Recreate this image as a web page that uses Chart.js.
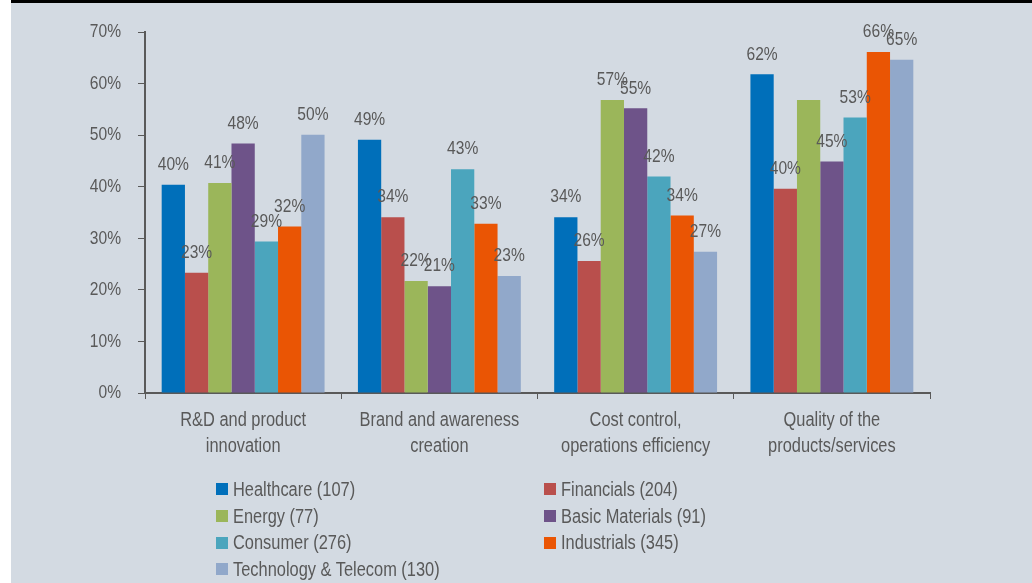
<!DOCTYPE html>
<html>
<head>
<meta charset="utf-8">
<script src="https://cdn.jsdelivr.net/npm/chart.js@4/dist/chart.umd.min.js"></script>
<style>
	html, body {
		margin: 0;
		padding: 0;
		background: #ffffff;
	}
	#frame {
		position: absolute;
		left: 11px;
		top: 0;
		width: 1021px;
		height: 580px;
		background: #d3dae2;
		border-top: 3px solid #000000;
	}
	#chart {
		position: absolute;
		left: 0;
		top: 0;
	}
	#legend {
		position: absolute;
		left: 216px;
		top: 476px;
		display: grid;
		grid-template-columns: 328px auto;
		grid-auto-rows: 26.7px;
		font-family: "Liberation Sans", Arial, sans-serif;
		font-size: 20px;
		color: #595959;
	}
	.item {
		display: flex;
		align-items: center;
		white-space: nowrap;
	}
	.box {
		width: 12px;
		height: 12px;
		margin-right: 5px;
		flex: none;
	}
	.name {
		display: inline-block;
		transform: scaleX(0.82);
		transform-origin: left center;
	}
</style>
</head>
<body>
<div id="frame"></div>
<canvas id="chart" width="1032" height="583"></canvas>
<div id="legend"></div>
<script>
const categories = [
	["R&D and product", "innovation"],
	["Brand and awareness", "creation"],
	["Cost control,", "operations efficiency"],
	["Quality of the", "products/services"],
];

const seriesNames = [
	"Healthcare (107)",
	"Financials (204)",
	"Energy (77)",
	"Basic Materials (91)",
	"Consumer (276)",
	"Industrials (345)",
	"Technology & Telecom (130)",
];

const healthcare = [40.4, 49.1, 34.1, 61.8];
const financials = [23.3, 34.1, 25.6, 39.6];
const energy = [40.7, 21.7, 56.8, 56.8];
const basicMaterials = [48.4, 20.7, 55.2, 44.9];
const consumer = [29.4, 43.4, 42.0, 53.4];
const industrials = [32.3, 32.8, 34.4, 66.1];
const techTelecom = [50.1, 22.7, 27.4, 64.6];

// the picture shows no label on the energy bar of the last group
const unlabeled = [[2, 3]];

const yTicks = [0, 10, 20, 30, 40, 50, 60, 70];

const seriesData = [healthcare, financials, energy, basicMaterials, consumer, industrials, techTelecom];
const colors = ["#006fba", "#b94f4c", "#9bb65a", "#6e5389", "#4ba5bd", "#ea5504", "#91a8ca"];

const textColor = "#595959";

// no narrow font installed, so squeeze a normal one
function condensedText(ctx, text, x, y, size, align) {
	ctx.save();
	ctx.font = size + 'px "Liberation Sans", Arial, sans-serif';
	ctx.fillStyle = textColor;
	ctx.textAlign = align;
	ctx.textBaseline = "middle";
	ctx.translate(x, y);
	ctx.scale(0.82, 1);
	ctx.fillText(text, 0, 0);
	ctx.restore();
}

const valueLabels = {
	id: "valueLabels",
	afterDatasetsDraw(chart) {
		chart.data.datasets.forEach((ds, si) => {
			const meta = chart.getDatasetMeta(si);
			meta.data.forEach((bar, i) => {
				if (unlabeled.some((p) => p[0] === si && p[1] === i)) return;
				condensedText(chart.ctx, Math.round(ds.data[i]) + "%", bar.x, bar.y - 20, 19, "center");
			});
		});
	},
};

const axisLabels = {
	id: "axisLabels",
	afterDraw(chart) {
		const ctx = chart.ctx;
		const xs = chart.scales.x;
		const ys = chart.scales.y;
		ys.ticks.forEach((t, i) => {
			condensedText(ctx, t.value + "%", ys.right - 24, ys.getPixelForTick(i), 19, "right");
		});
		xs.ticks.forEach((t, i) => {
			chart.data.labels[i].forEach((line, j) => {
				condensedText(ctx, line, xs.getPixelForTick(i), xs.top + 27 + j * 26.7, 20, "center");
			});
		});
	},
};

new Chart(document.getElementById("chart"), {
	type: "bar",
	data: {
		labels: categories,
		datasets: seriesNames.map((name, i) => ({
			label: name,
			data: seriesData[i],
			backgroundColor: colors[i],
			borderWidth: 0,
			categoryPercentage: 0.83,
			barPercentage: 1,
		})),
	},
	options: {
		responsive: false,
		animation: false,
		layout: {
			padding: { left: 0, right: 102, top: 32, bottom: 0 },
		},
		plugins: {
			legend: { display: false },
			tooltip: { enabled: false },
		},
		scales: {
			x: {
				grid: {
					display: true,
					drawOnChartArea: false,
					drawTicks: true,
					tickLength: 6,
					color: textColor,
					lineWidth: 1,
				},
				border: { color: textColor, width: 2 },
				ticks: { display: false },
				afterFit: (scale) => {
					scale.height = 190;
				},
			},
			y: {
				min: 0,
				max: 70,
				afterBuildTicks: (scale) => {
					scale.ticks = yTicks.map((v) => ({ value: v }));
				},
				grid: {
					display: true,
					drawOnChartArea: false,
					drawTicks: true,
					tickLength: 7,
					color: textColor,
					lineWidth: 1,
				},
				border: { color: textColor, width: 2 },
				ticks: { display: false },
				afterFit: (scale) => {
					scale.width = 145;
				},
			},
		},
	},
	plugins: [valueLabels, axisLabels],
});

// legend, two columns, row by row
const legend = document.getElementById("legend");
seriesNames.forEach((name, i) => {
	const item = document.createElement("div");
	item.className = "item";
	item.innerHTML = `<span class="box" style="background:${colors[i]}"></span><span class="name"></span>`;
	item.lastChild.textContent = name;
	legend.appendChild(item);
});
</script>
</body>
</html>
